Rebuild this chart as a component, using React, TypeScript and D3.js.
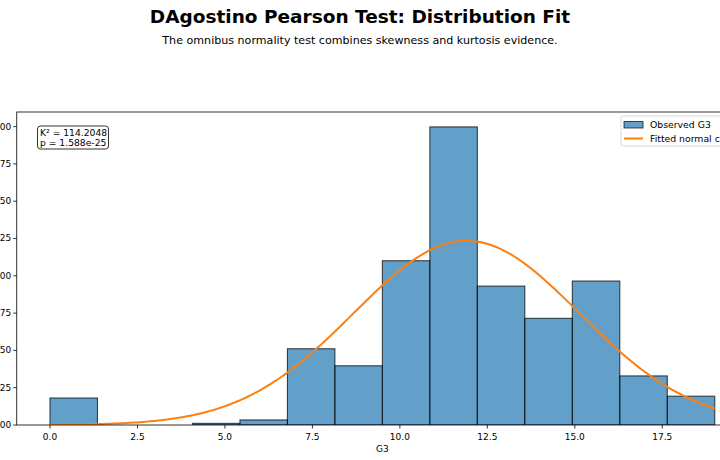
import React from 'react';
import * as d3 from 'd3';

// Histogram of final grades (density), 14 equal bins over [0, 19]
const binEdges = [0, 1.357, 2.714, 4.071, 5.429, 6.786, 8.143, 9.5, 10.857, 12.214, 13.571, 14.929, 16.286, 17.643, 19];
const densities = [0.0181, 0, 0, 0.0011, 0.0034, 0.0511, 0.0397, 0.1101, 0.1998, 0.0931, 0.0715, 0.0965, 0.0329, 0.0193];

// Fitted normal parameters
const fitMean = 11.906;
const fitStd = 3.2307;

const xTicks = [0, 2.5, 5, 7.5, 10, 12.5, 15, 17.5];
const yTicks = [0, 0.025, 0.05, 0.075, 0.1, 0.125, 0.15, 0.175, 0.2];

const statLines = ['K\u00b2 = 114.2048', 'p = 1.588e-25'];
const legendItems = ['Observed G3', 'Fitted normal curve'];

const W = 720;
const H = 460;
const font = '"DejaVu Sans", sans-serif';

const App: React.FC = () => {
  const left = 16.75;
  const right = 748;
  const top = 112;
  const bottom = 425;

  const x = d3.scaleLinear().domain([-0.95, 19.95]).range([left, right]);
  const y = d3.scaleLinear().domain([0, 0.2098]).range([bottom, top]);

  const pdf = (v: number) =>
    Math.exp(-((v - fitMean) ** 2) / (2 * fitStd * fitStd)) / (fitStd * Math.sqrt(2 * Math.PI));
  const xs = d3.range(0, 200).map(i => (19 * i) / 199);
  const line = d3.line<number>().x(v => x(v)).y(v => y(pdf(v)));

  return (
    <div style={{ position: 'absolute', left: 0, top: 0 }}>
      <svg width={W} height={H} viewBox={`0 0 ${W} ${H}`} style={{ display: 'block', background: '#fff' }} fontFamily={font}>
        <text x={360} y={22.5} textAnchor="middle" fontSize={18.5} fontWeight="bold" fill="#000">
          DAgostino Pearson Test: Distribution Fit
        </text>
        <text x={360} y={43.5} textAnchor="middle" fontSize={11.1} fill="#000">
          The omnibus normality test combines skewness and kurtosis evidence.
        </text>

        <defs>
          <clipPath id="plot-clip">
            <rect x={left} y={top} width={right - left} height={bottom - top} />
          </clipPath>
        </defs>

        <g clipPath="url(#plot-clip)">
          {densities.map((d, i) => (
            <rect
              key={i}
              x={x(binEdges[i])}
              y={y(d)}
              width={x(binEdges[i + 1]) - x(binEdges[i])}
              height={bottom - y(d)}
              fill="#1f77b4"
              fillOpacity={0.7}
              stroke="#000"
              strokeOpacity={0.7}
              strokeWidth={1.1}
            />
          ))}
          <path d={line(xs) || ''} fill="none" stroke="#ff7f0e" strokeWidth={2} />
        </g>

        {/* axes frame */}
        <rect x={left} y={top} width={right - left} height={bottom - top} fill="none" stroke="#000" strokeWidth={0.8} />

        {xTicks.map(t => (
          <g key={t} transform={`translate(${x(t)},${bottom})`}>
            <line y2={3.5} stroke="#000" strokeWidth={0.8} />
            <text y={15} textAnchor="middle" fontSize={9} fill="#000">{t.toFixed(1)}</text>
          </g>
        ))}
        <text x={(left + right) / 2} y={452} textAnchor="middle" fontSize={9} fill="#000">G3</text>

        {yTicks.map(t => (
          <g key={t} transform={`translate(${left},${y(t)})`}>
            <line x2={-3.5} stroke="#000" strokeWidth={0.8} />
            <text x={-5.5} dy="0.32em" textAnchor="end" fontSize={9} fill="#000">{t.toFixed(3)}</text>
          </g>
        ))}

        {/* test statistic box */}
        <rect x={37.5} y={126} width={71} height={23} rx={3} fill="#fff" stroke="#333" strokeWidth={1} />
        {statLines.map((s, i) => (
          <text key={s} x={40} y={135.5 + i * 10.5} fontSize={9.2} fill="#000">{s}</text>
        ))}

        {/* legend */}
        <rect x={621} y={116} width={130} height={30} rx={2.5} fill="#fff" fillOpacity={0.8} stroke="#ccc" strokeWidth={0.8} />
        <rect x={624} y={121.5} width={19} height={6.5} fill="#1f77b4" fillOpacity={0.7} stroke="#000" strokeOpacity={0.7} strokeWidth={1} />
        <line x1={624} x2={643} y1={138.5} y2={138.5} stroke="#ff7f0e" strokeWidth={2} />
        {legendItems.map((s, i) => (
          <text key={s} x={650} y={128 + i * 14} fontSize={9.3} fill="#000">{s}</text>
        ))}
      </svg>
    </div>
  );
};

export default App;
